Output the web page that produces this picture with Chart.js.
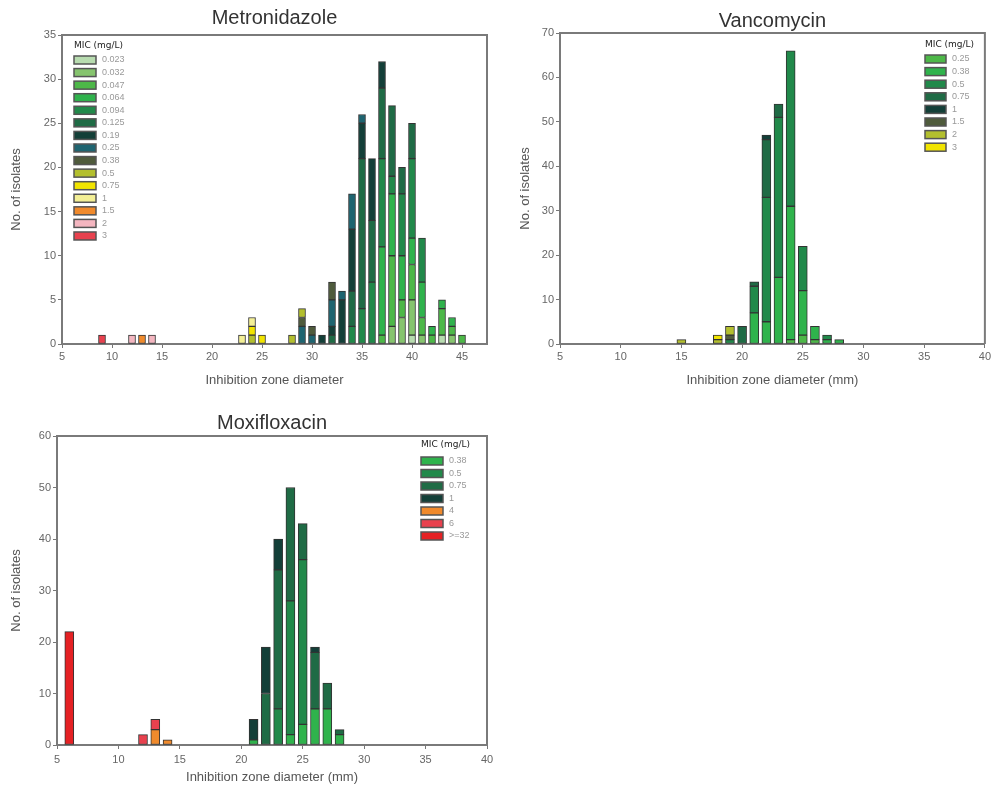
<!DOCTYPE html>
<html>
<head>
<meta charset="utf-8">
<script src="https://cdn.jsdelivr.net/npm/chart.js"></script>
<style>
  body { margin: 0; background: #fff; overflow: hidden; }
  .panel { position: absolute; }
</style>
</head>
<body>
<div class="panel" style="left:0;top:0;width:500px;height:392px"><canvas id="mtz"></canvas></div>
<div class="panel" style="left:500px;top:0;width:493px;height:392px"><canvas id="van"></canvas></div>
<div class="panel" style="left:0;top:400px;width:500px;height:385px"><canvas id="mxf"></canvas></div>
<script>
// Metronidazole: zone diameters and counts per MIC (aligned to mtzDiameters)
const mtzDiameters = [9,12,13,14,23,24,25,28,29,30,31,32,33,34,35,36,37,38,39,40,41,42,43,44,45];
const mtz0023 = [0,0,0,0,0,0,0,0,0,0,0,0,0,0,0,0,0,0,0,1,0,0,1,0,0];
const mtz0032 = [0,0,0,0,0,0,0,0,0,0,0,0,0,0,0,0,0,2,3,4,1,0,0,1,0];
const mtz0047 = [0,0,0,0,0,0,0,0,0,0,0,0,0,0,0,0,1,8,2,4,2,1,3,1,1];
const mtz0064 = [0,0,0,0,0,0,0,0,0,0,0,0,0,0,0,0,10,7,5,3,4,1,1,1,0];
const mtz0094 = [0,0,0,0,0,0,0,0,0,0,0,0,0,2,4,7,10,2,7,9,5,0,0,0,0];
const mtz0125 = [0,0,0,0,0,0,0,0,0,0,0,1,0,4,17,7,8,8,3,4,0,0,0,0,0];
const mtz019  = [0,0,0,0,0,0,0,0,0,0,1,1,5,7,4,7,3,0,0,0,0,0,0,0,0];
const mtz025  = [0,0,0,0,0,0,0,0,2,1,0,3,1,4,1,0,0,0,0,0,0,0,0,0,0];
const mtz038  = [0,0,0,0,0,0,0,0,1,1,0,2,0,0,0,0,0,0,0,0,0,0,0,0,0];
const mtz05   = [0,0,0,0,0,1,0,1,1,0,0,0,0,0,0,0,0,0,0,0,0,0,0,0,0];
const mtz075  = [0,0,0,0,0,1,1,0,0,0,0,0,0,0,0,0,0,0,0,0,0,0,0,0,0];
const mtz1    = [0,0,0,0,1,1,0,0,0,0,0,0,0,0,0,0,0,0,0,0,0,0,0,0,0];
const mtz15   = [0,0,1,0,0,0,0,0,0,0,0,0,0,0,0,0,0,0,0,0,0,0,0,0,0];
const mtz2    = [0,1,0,1,0,0,0,0,0,0,0,0,0,0,0,0,0,0,0,0,0,0,0,0,0];
const mtz3    = [1,0,0,0,0,0,0,0,0,0,0,0,0,0,0,0,0,0,0,0,0,0,0,0,0];

// Vancomycin
const vanDiameters = [15,18,19,20,21,22,23,24,25,26,27,28];
const van025 = [0,0,0,0,0,0,0,1,2,1,0,0];
const van038 = [0,0,0,0,7,5,15,30,10,3,1,1];
const van05  = [0,0,1,0,6,28,36,35,10,0,1,0];
const van075 = [0,0,0,4,1,13,3,0,0,0,0,0];
const van1   = [0,0,0,0,0,1,0,0,0,0,0,0];
const van15  = [0,0,1,0,0,0,0,0,0,0,0,0];
const van2   = [1,1,2,0,0,0,0,0,0,0,0,0];
const van3   = [0,1,0,0,0,0,0,0,0,0,0,0];

// Moxifloxacin
const mxfDiameters = [6,12,13,14,21,22,23,24,25,26,27,28];
const mxf038 = [0,0,0,0,1,0,0,2,4,7,7,2];
const mxf05  = [0,0,0,0,0,0,7,26,32,0,0,0];
const mxf075 = [0,0,0,0,0,10,27,22,7,11,5,1];
const mxf1   = [0,0,0,0,4,9,6,0,0,1,0,0];
const mxf4   = [0,0,3,1,0,0,0,0,0,0,0,0];
const mxf6   = [0,2,2,0,0,0,0,0,0,0,0,0];
const mxf32  = [22,0,0,0,0,0,0,0,0,0,0,0];

const C = {
  c0023: '#b8dcb0', c0032: '#86c46e', c0047: '#4db848', c0064: '#2fb34c',
  c0094: '#21894a', c0125: '#1f6b45', c019: '#133f38', c025: '#1e6470',
  c038: '#4f5b3c', c05: '#b3bf2e', c075: '#f1e400', c1: '#f3ef95',
  c15: '#f08a2c', c2: '#f4b6c0', c3: '#e8414e', c32: '#e52124'
};

// title, frame and in-plot legend
const panelDecor = {
  id: 'panelDecor',
  afterDraw(chart, args, o) {
    const ctx = chart.ctx, a = chart.chartArea;
    ctx.save();
    ctx.strokeStyle = '#7a7a7a';
    ctx.lineWidth = 2;
    ctx.beginPath();
    ctx.moveTo(a.left, a.top);
    ctx.lineTo(a.right, a.top);
    ctx.lineTo(a.right, a.bottom);
    ctx.stroke();

    ctx.fillStyle = '#333';
    ctx.font = '20px "Liberation Sans", Arial, sans-serif';
    ctx.textAlign = 'center';
    ctx.textBaseline = 'middle';
    ctx.fillText(o.title, (a.left + a.right) / 2, a.top - o.titleGap);

    ctx.textAlign = 'left';
    ctx.font = '9px "DejaVu Sans", sans-serif';
    ctx.fillStyle = '#222';
    ctx.fillText('MIC (mg/L)', o.x, o.y);
    chart.data.datasets.forEach((ds, i) => {
      const cy = o.y + o.first + i * o.step;
      ctx.fillStyle = ds.backgroundColor;
      ctx.fillRect(o.x, cy - 4, o.boxW, 8);
      ctx.strokeStyle = '#555';
      ctx.lineWidth = 1.5;
      ctx.strokeRect(o.x, cy - 4, o.boxW, 8);
      ctx.fillStyle = '#999';
      ctx.font = '9px "Liberation Sans", Arial, sans-serif';
      ctx.fillText(ds.label, o.x + o.boxW + 6, cy);
    });
    ctx.restore();
  }
};

function series(diameters, counts, label, color) {
  const pts = [];
  diameters.forEach((d, i) => { if (counts[i]) pts.push({ x: d, y: counts[i] }); });
  return { label: label, data: pts, backgroundColor: color, borderColor: '#333', borderWidth: 1, borderSkipped: false };
}

const axisFont = { family: '"Liberation Sans", Arial, sans-serif', size: 11 };
const titleFont = { family: '"Liberation Sans", Arial, sans-serif', size: 13 };

function makeChart(id, datasets, s) {
  new Chart(document.getElementById(id), {
    type: 'bar',
    data: { datasets: datasets },
    options: {
      responsive: true,
      maintainAspectRatio: false,
      animation: false,
      barThickness: s.bar,
      layout: { padding: s.pad },
      plugins: {
        legend: { display: false },
        tooltip: { enabled: false },
        panelDecor: s.decor
      },
      scales: {
        x: {
          type: 'linear', stacked: true, offset: false,
          min: 5, max: s.xMax,
          ticks: { stepSize: 5, includeBounds: false, color: '#666', font: axisFont, padding: s.xTickPad },
          grid: { drawOnChartArea: false, drawTicks: true, tickLength: 4, color: '#777', offset: false },
          border: { color: '#7a7a7a', width: 2 },
          title: { display: true, text: s.xTitle, color: '#555', font: titleFont, padding: { top: 4, bottom: s.xTitlePadB } },
          afterFit: (sc) => { sc.height = s.xH; }
        },
        y: {
          stacked: true, min: 0, max: s.yMax,
          ticks: { stepSize: s.yStep, color: '#666', font: axisFont, padding: 2 },
          grid: { drawOnChartArea: false, drawTicks: true, tickLength: 4, color: '#777' },
          border: { color: '#7a7a7a', width: 2 },
          title: { display: true, text: 'No. of isolates', color: '#555', font: titleFont },
          afterFit: (sc) => { sc.width = s.yW; }
        }
      }
    },
    plugins: [panelDecor]
  });
}

makeChart('mtz', [
  series(mtzDiameters, mtz0023, '0.023', C.c0023),
  series(mtzDiameters, mtz0032, '0.032', C.c0032),
  series(mtzDiameters, mtz0047, '0.047', C.c0047),
  series(mtzDiameters, mtz0064, '0.064', C.c0064),
  series(mtzDiameters, mtz0094, '0.094', C.c0094),
  series(mtzDiameters, mtz0125, '0.125', C.c0125),
  series(mtzDiameters, mtz019, '0.19', C.c019),
  series(mtzDiameters, mtz025, '0.25', C.c025),
  series(mtzDiameters, mtz038, '0.38', C.c038),
  series(mtzDiameters, mtz05, '0.5', C.c05),
  series(mtzDiameters, mtz075, '0.75', C.c075),
  series(mtzDiameters, mtz1, '1', C.c1),
  series(mtzDiameters, mtz15, '1.5', C.c15),
  series(mtzDiameters, mtz2, '2', C.c2),
  series(mtzDiameters, mtz3, '3', C.c3)
], {
  bar: 7, xMax: 47.5, yMax: 35, yStep: 5, xTitle: 'Inhibition zone diameter',
  pad: { top: 35, right: 13, left: 5, bottom: 0 }, xH: 48, yW: 57, xTickPad: 2, xTitlePadB: 4,
  decor: { title: 'Metronidazole', titleGap: 17, x: 74, y: 46, first: 14, step: 12.57, boxW: 22 }
});

makeChart('van', [
  series(vanDiameters, van025, '0.25', C.c0047),
  series(vanDiameters, van038, '0.38', C.c0064),
  series(vanDiameters, van05, '0.5', C.c0094),
  series(vanDiameters, van075, '0.75', C.c0125),
  series(vanDiameters, van1, '1', C.c019),
  series(vanDiameters, van15, '1.5', C.c038),
  series(vanDiameters, van2, '2', C.c05),
  series(vanDiameters, van3, '3', C.c075)
], {
  bar: 9, xMax: 40, yMax: 70, yStep: 10, xTitle: 'Inhibition zone diameter (mm)',
  pad: { top: 33, right: 3, left: 14, bottom: 0 }, xH: 48, yW: 46, xTickPad: 2, xTitlePadB: 4,
  decor: { title: 'Vancomycin', titleGap: 12, x: 425, y: 45, first: 14, step: 12.6, boxW: 21 }
});

makeChart('mxf', [
  series(mxfDiameters, mxf038, '0.38', C.c0064),
  series(mxfDiameters, mxf05, '0.5', C.c0094),
  series(mxfDiameters, mxf075, '0.75', C.c0125),
  series(mxfDiameters, mxf1, '1', C.c019),
  series(mxfDiameters, mxf4, '4', C.c15),
  series(mxfDiameters, mxf6, '6', C.c3),
  series(mxfDiameters, mxf32, '>=32', C.c32)
], {
  bar: 9, xMax: 40, yMax: 60, yStep: 10, xTitle: 'Inhibition zone diameter (mm)',
  pad: { top: 36, right: 13, left: 5, bottom: 0 }, xH: 40, yW: 52, xTickPad: 4, xTitlePadB: 0,
  decor: { title: 'Moxifloxacin', titleGap: 13, x: 421, y: 45, first: 16, step: 12.5, boxW: 22 }
});
</script>
</body>
</html>
